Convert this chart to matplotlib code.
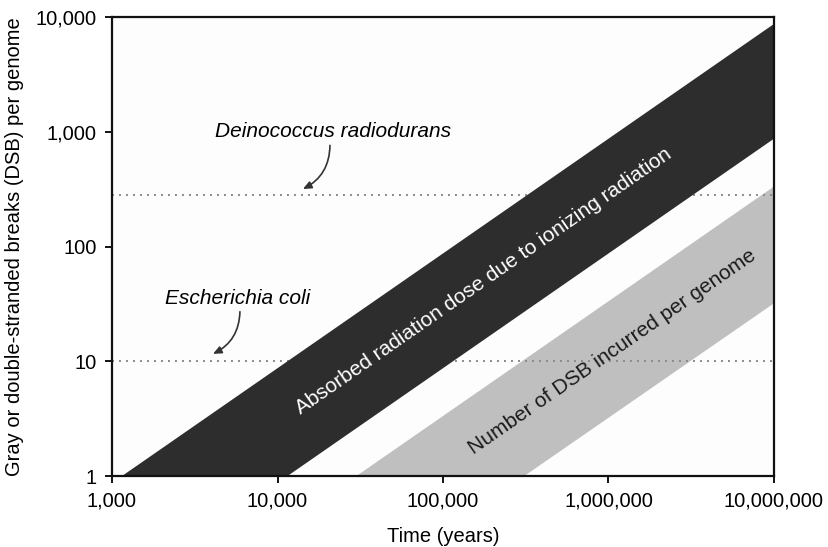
import matplotlib
matplotlib.use("Agg")
import matplotlib.pyplot as plt
import numpy as np
from matplotlib.ticker import FixedLocator, FixedFormatter, NullLocator

plt.rcParams['font.family'] = ['Liberation Sans', 'DejaVu Sans']

# ---- data ----
x_ticks = [1e3, 1e4, 1e5, 1e6, 1e7]
x_tick_labels = ["1,000", "10,000", "100,000", "1,000,000", "10,000,000"]
y_ticks = [1, 10, 100, 1000, 10000]
y_tick_labels = ["1", "10", "100", "1,000", "10,000"]

dose_upper_x = [1150, 1e7]
dose_upper_y = [1, 8700]
dose_lower_x = [11500, 1e7]
dose_lower_y = [1, 870]

dsb_upper_x = [30000, 1e7]
dsb_upper_y = [1, 333]
dsb_lower_x = [310000, 1e7]
dsb_lower_y = [1, 32]

organisms = ["Deinococcus radiodurans", "Escherichia coli"]
organism_levels = [280, 10]
organism_text_xy = [(21600, 1000), (5770, 35)]
organism_arrow_start = [(20750, 760), (5930, 27)]
organism_arrow_end = [(14250, 317), (4075, 11.6)]

dose_label = "Absorbed radiation dose due to ionizing radiation"
dose_label_xy = (175000, 50)
dsb_label = "Number of DSB incurred per genome"
dsb_label_xy = (1.05e6, 12)

# ---- figure ----
fig = plt.figure(figsize=(8.29, 5.47), dpi=100)
ax = fig.add_axes([112/829, 1-476/547, (774-112)/829, (476-17)/547])
ax.set_xscale('log')
ax.set_yscale('log')
ax.set_xlim(1e3, 1e7)
ax.set_ylim(1, 1e4)
ax.set_facecolor('#fdfdfd')

# gray band
ax.fill(dsb_upper_x + dsb_lower_x[::-1], dsb_upper_y + dsb_lower_y[::-1],
        color='#bfbfbf', lw=0, zorder=1)
# dotted reference lines
for lvl in organism_levels:
    ax.axhline(lvl, color='#8a8a8a', lw=1.4, ls=(0, (1, 2.6)), zorder=2)
# dark band
ax.fill(dose_upper_x + dose_lower_x[::-1], dose_upper_y + dose_lower_y[::-1],
        color='#2d2d2d', lw=0, zorder=3)

# organism annotations
for name, txy, a0, a1 in zip(organisms, organism_text_xy, organism_arrow_start, organism_arrow_end):
    ax.text(txy[0], txy[1], name, style='italic', fontsize=15,
            ha='center', va='center', zorder=5)
    ax.annotate("", xy=a1, xytext=a0,
                arrowprops=dict(arrowstyle='-|>,head_length=0.5,head_width=0.22',
                                color='#333333', lw=1.2,
                                connectionstyle='arc3,rad=-0.3',
                                shrinkA=0, shrinkB=0), zorder=5)

# band labels (rotate along band)
p0 = ax.transData.transform((1e3, 1))
p1 = ax.transData.transform((1e7, 1e4))
angle = np.degrees(np.arctan2(p1[1]-p0[1], p1[0]-p0[0]))
ax.text(dose_label_xy[0], dose_label_xy[1], dose_label, color='white', fontsize=15,
        rotation=angle, rotation_mode='anchor', ha='center', va='center', zorder=6)
ax.text(dsb_label_xy[0], dsb_label_xy[1], dsb_label, color='#1a1a1a', fontsize=15,
        rotation=angle, rotation_mode='anchor', ha='center', va='center', zorder=6)

# axes styling
ax.xaxis.set_major_locator(FixedLocator(x_ticks))
ax.xaxis.set_major_formatter(FixedFormatter(x_tick_labels))
ax.xaxis.set_minor_locator(NullLocator())
ax.yaxis.set_major_locator(FixedLocator(y_ticks))
ax.yaxis.set_major_formatter(FixedFormatter(y_tick_labels))
ax.yaxis.set_minor_locator(NullLocator())
ax.tick_params(axis='both', which='major', length=5, width=1.3, labelsize=14.5,
               direction='out', pad=6)
for s in ax.spines.values():
    s.set_linewidth(1.6)
    s.set_color('#111111')
    s.set_zorder(7)

ax.set_xlabel("Time (years)", fontsize=14.5, labelpad=12)
ax.set_ylabel("Gray or double-stranded breaks (DSB) per genome", fontsize=14.5, labelpad=8)

fig.savefig("out.png", dpi=100)
